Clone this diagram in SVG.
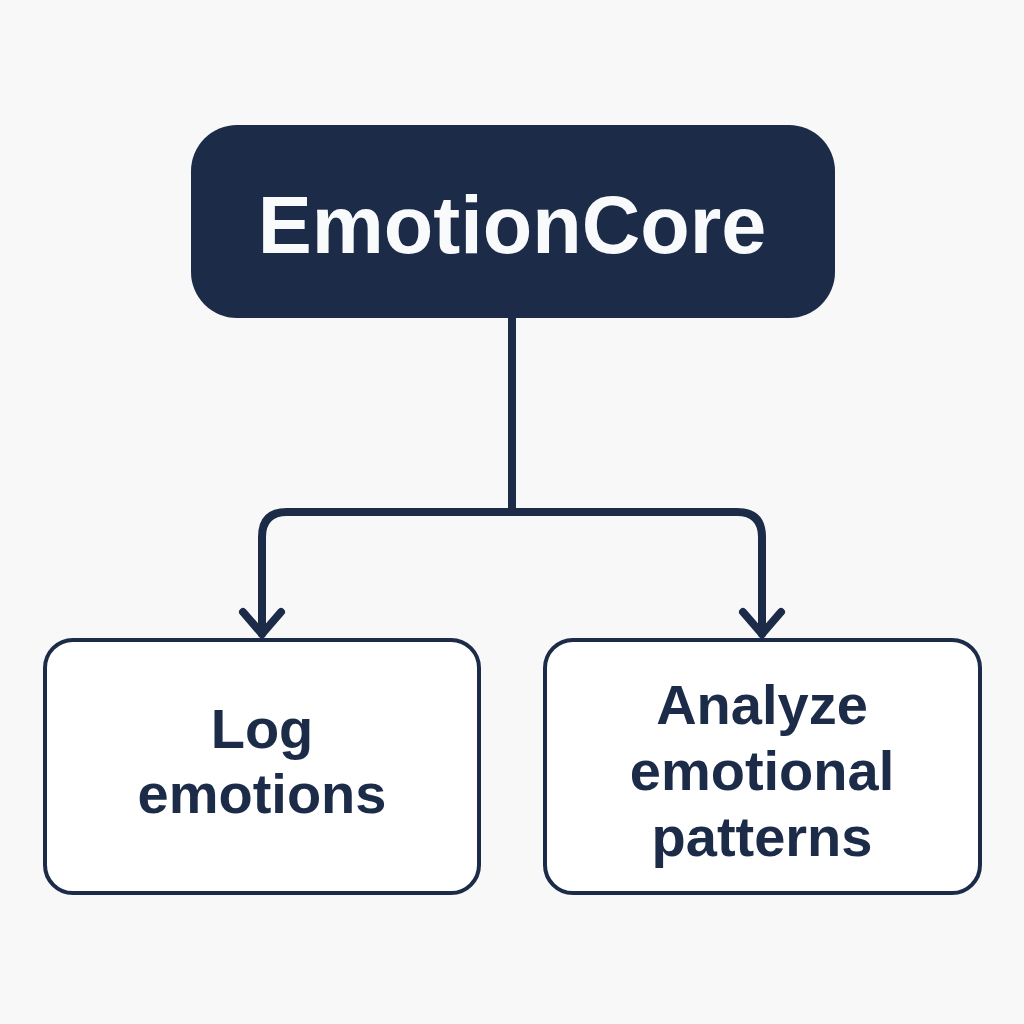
<svg xmlns="http://www.w3.org/2000/svg" width="1024" height="1024" viewBox="0 0 1024 1024">
  <defs>
    <style>
      .bg { fill: #f8f8f8; }
      .root { fill: #1b2b48; }
      .box { fill: #ffffff; stroke: #1b2b48; stroke-width: 4; }
      .conn { fill: none; stroke: #1b2b48; stroke-width: 8; stroke-linecap: round; stroke-linejoin: round; }
      .title { font-family: "Liberation Sans", Arial, sans-serif; font-weight: bold; font-size: 81px; fill: #f8fafc; text-anchor: middle; }
      .label { font-family: "Liberation Sans", Arial, sans-serif; font-weight: bold; font-size: 56px; fill: #1b2b48; text-anchor: middle; }
    </style>
  </defs>
  <rect class="bg" x="0" y="0" width="1024" height="1024"/>
  <g id="connectors">
    <path class="conn" d="M512 318 V510"/>
    <path class="conn" d="M262 634 V537 Q262 512 287 512 H737 Q762 512 762 537 V634"/>
    <path class="conn" d="M243 612 L262 634 L281 612"/>
    <path class="conn" d="M743 612 L762 634 L781 612"/>
  </g>
  <g id="node-core">
    <rect class="root" x="191" y="125" width="644" height="193" rx="46"/>
    <text class="title" x="512" y="253">EmotionCore</text>
  </g>
  <g id="node-log">
    <rect class="box" x="45" y="640" width="434" height="253" rx="28"/>
    <text class="label" x="262" y="748">Log</text>
    <text class="label" x="262" y="813">emotions</text>
  </g>
  <g id="node-analyze">
    <rect class="box" x="545" y="640" width="435" height="253" rx="28"/>
    <text class="label" x="762" y="724">Analyze</text>
    <text class="label" x="762" y="790">emotional</text>
    <text class="label" x="762" y="856">patterns</text>
  </g>
</svg>
